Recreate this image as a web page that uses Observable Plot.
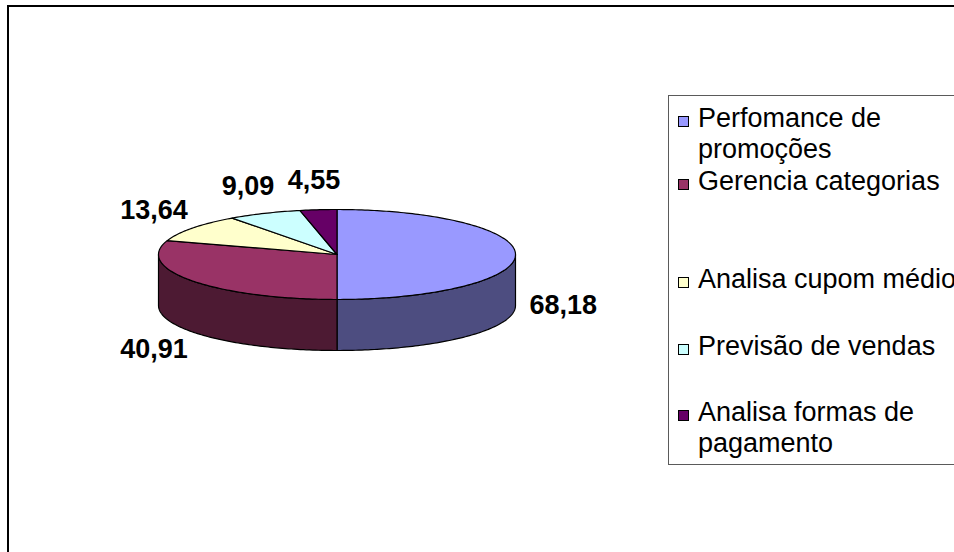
<!DOCTYPE html>
<html>
<head>
<meta charset="utf-8">
<script src="https://cdn.jsdelivr.net/npm/d3@7"></script>
<script src="https://cdn.jsdelivr.net/npm/@observablehq/plot@0.6"></script>
<style>
  html, body { margin: 0; padding: 0; background: #fff; overflow: hidden; }
  #chart { position: relative; width: 954px; height: 552px; overflow: hidden;
           font-family: "Liberation Sans", Arial, sans-serif; }
  #frame { position: absolute; left: 7px; top: 5px; width: 1000px; height: 600px;
           border-left: 2px solid #000; border-top: 2px solid #000; box-sizing: border-box; }
  #plot { position: absolute; left: 0; top: 0; }
  #legend { position: absolute; left: 668px; top: 95px; width: 400px; height: 370px;
            border: 1px solid #5a5a5a; box-sizing: border-box; background: #fff; }
  .item { position: absolute; left: 9px; }
  .swatch { position: absolute; left: 0; width: 11px; height: 11px; border: 1px solid #000;
            box-sizing: border-box; }
  .label { position: absolute; left: 20px; width: 262px; font-size: 27px; line-height: 31px;
           color: #000; white-space: normal; }
</style>
</head>
<body>
<div id="chart">
  <div id="frame"></div>
  <div id="plot"></div>
  <div id="legend"></div>
</div>
<script>
// Pie data
const categories = [
  "Perfomance de promoções",
  "Gerencia categorias",
  "Analisa cupom médio",
  "Previsão de vendas",
  "Analisa formas de pagamento"
];
const values = [68.18, 40.91, 13.64, 9.09, 4.55];
const topColors = ["#9999FF", "#993366", "#FFFFCC", "#CCFFFF", "#660066"];
const sideColors = ["#4D4D80", "#4D1A33", "#80805F", "#5F8080", "#330033"];

// Decimal comma formatting for the value labels
const fmt = v => d3.format(".2f")(v).replace(".", ",");

// Geometry of the tilted pie, in unit-ellipse coordinates (y up)
const RX = 178.5, RY = 45;         // pixel radii of the top ellipse
const DEPTH = 51 / RY;              // wall height in y units
const rad = d => d * Math.PI / 180;

const total = d3.sum(values);
let acc = 0;
const slices = values.map((v, i) => {
  const a0 = acc / total * 360;
  acc += v;
  const a1 = acc / total * 360;
  return {i, v, a0, a1, mid: (a0 + a1) / 2};
});

// Points along the rim, angles measured clockwise from 12 o'clock
function arc(a0, a1, drop = 0) {
  const n = Math.max(2, Math.ceil(a1 - a0));
  return d3.range(n + 1).map(k => {
    const a = rad(a0 + (a1 - a0) * k / n);
    return {x: Math.sin(a), y: Math.cos(a) - drop};
  });
}

// Visible walls: the part of each slice on the front half (90°..270°)
const walls = slices.map(s => {
  const s0 = Math.max(s.a0, 90), s1 = Math.min(s.a1, 270);
  if (s1 <= s0) return null;
  return {i: s.i, pts: arc(s0, s1).concat(arc(s0, s1, DEPTH).reverse())};
}).filter(Boolean);

// Top faces
const tops = slices.map(s => ({i: s.i, pts: [{x: 0, y: 0}, ...arc(s.a0, s.a1)]}));

// Value labels placed just outside the rim at the slice's mid angle
const FONT = 27;
const labels = slices.map(s => {
  const m = rad(s.mid);
  const sx = Math.sin(m), cy = Math.cos(m);
  const front = cy < 0.01;
  const ax = sx, ay = cy - (front ? DEPTH : 0);
  const text = fmt(s.v);
  const w = FONT * [...text].reduce((t, c) => t + (c === "," ? 0.278 : 0.556), 0);
  const h = 20;
  const ox = sx * (w / 2 + 14);
  const oy = -cy * (h / 2 + 20);
  return {text, x: ax + ox / RX, y: ay - oy / RY};
});

const marks = [];
for (const w of walls) {
  marks.push(Plot.line(w.pts, {
    x: "x", y: "y", curve: "linear-closed",
    fill: sideColors[w.i], stroke: "#000", strokeWidth: 1.2, strokeLinejoin: "round"
  }));
}
for (const t of tops) {
  marks.push(Plot.line(t.pts, {
    x: "x", y: "y", curve: "linear-closed",
    fill: topColors[t.i], stroke: "#000", strokeWidth: 1.2, strokeLinejoin: "round"
  }));
}
marks.push(Plot.text(labels, {
  x: "x", y: "y", text: "text",
  fontSize: FONT, fontWeight: "bold", fill: "#000", lineAnchor: "middle"
}));

const chart = Plot.plot({
  width: 954,
  height: 552,
  margin: 0,
  style: {background: "transparent", fontFamily: "'Liberation Sans', Arial, sans-serif"},
  x: {domain: [-1, 1], range: [336.5 - RX, 336.5 + RX], axis: null},
  y: {domain: [-1, 1], range: [254 + RY, 254 - RY], axis: null},
  marks
});
document.getElementById("plot").appendChild(chart);

// Legend rows (top of each entry's first line, relative to the legend box)
const rowTops = [7, 70, 168, 235, 301];
const legend = document.getElementById("legend");
categories.forEach((name, i) => {
  const item = document.createElement("div");
  item.className = "item";
  item.style.top = rowTops[i] + "px";
  const sw = document.createElement("div");
  sw.className = "swatch";
  sw.style.background = topColors[i];
  sw.style.top = "13px";
  const lb = document.createElement("div");
  lb.className = "label";
  lb.style.top = "0px";
  lb.textContent = name;
  item.appendChild(sw);
  item.appendChild(lb);
  legend.appendChild(item);
});
</script>
</body>
</html>
